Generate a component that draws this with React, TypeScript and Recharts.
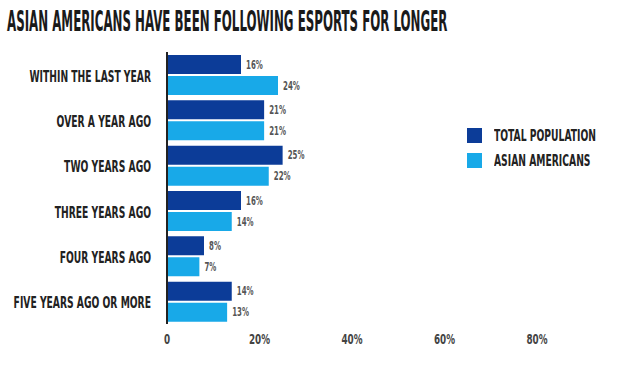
import React from 'react';
import { BarChart, Bar, XAxis, YAxis, Legend, LabelList } from 'recharts';

const categories = [
  'WITHIN THE LAST YEAR',
  'OVER A YEAR AGO',
  'TWO YEARS AGO',
  'THREE YEARS AGO',
  'FOUR YEARS AGO',
  'FIVE YEARS AGO OR MORE',
];
const totalPopulation = [16, 21, 25, 16, 8, 14];
const asianAmericans = [24, 21, 22, 14, 7, 13];
const xTicks = [0, 20, 40, 60, 80];

const FONT = "'DejaVu Sans Condensed', 'Liberation Sans Narrow', sans-serif";
const DARK = '#0c3c98';
const LIGHT = '#18a9e8';

const series = [
  { key: 'total', name: 'TOTAL POPULATION', color: DARK },
  { key: 'asian', name: 'ASIAN AMERICANS', color: LIGHT },
];

const data = categories.map((name, i) => ({
  name,
  total: totalPopulation[i],
  asian: asianAmericans[i],
}));

const CategoryTick = (props: any) => {
  const { x, y, payload } = props;
  return (
    <g transform={`translate(${x - 2},${y})`}>
      <text
        textAnchor="end"
        dy={7}
        transform="scale(0.62,1)"
        fontFamily={FONT}
        fontWeight="bold"
        fontSize={16.5}
        fill="#222"
      >
        {payload.value}
      </text>
    </g>
  );
};

const ValueTick = (props: any) => {
  const { x, y, payload } = props;
  return (
    <g transform={`translate(${x},${y})`}>
      <text
        textAnchor="middle"
        dy={12}
        transform="scale(0.7,1)"
        fontFamily={FONT}
        fontWeight="bold"
        fontSize={14}
        fill="#444"
      >
        {payload.value === 0 ? '0' : `${payload.value}%`}
      </text>
    </g>
  );
};

const ValueLabel = (props: any) => {
  const { x, y, width, height, value } = props;
  return (
    <g transform={`translate(${x + width + 5},${y + height / 2})`}>
      <text
        textAnchor="start"
        dy={4}
        transform="scale(0.65,1)"
        fontFamily={FONT}
        fontWeight="bold"
        fontSize={12}
        fill="#555"
      >
        {`${value}%`}
      </text>
    </g>
  );
};

const renderLegend = () => (
  <div>
    {series.map((s) => (
      <div key={s.key} style={{ position: 'relative', height: 15, marginBottom: 10 }}>
        <div style={{ position: 'absolute', left: 0, top: 0, width: 15, height: 15, background: s.color }} />
        <div
          style={{
            position: 'absolute',
            left: 27,
            top: -2,
            fontFamily: FONT,
            fontWeight: 'bold',
            fontSize: 16.5,
            lineHeight: '19px',
            color: '#222',
            transform: 'scale(0.62,1)',
            transformOrigin: 'left center',
            whiteSpace: 'nowrap',
          }}
        >
          {s.name}
        </div>
      </div>
    ))}
  </div>
);

export default function App() {
  return (
    <div style={{ position: 'absolute', left: 0, top: 0, width: 625, height: 378, background: '#fff' }}>
      <svg width={625} height={40} style={{ position: 'absolute', left: 0, top: 0 }}>
        <g transform="translate(7,31)">
          <text
            transform="scale(0.548,1.17)"
            fontFamily={FONT}
            fontWeight="bold"
            fontSize={24}
            fill="#1a1a1a"
          >
            ASIAN AMERICANS HAVE BEEN FOLLOWING ESPORTS FOR LONGER
          </text>
        </g>
      </svg>
      <BarChart
        layout="vertical"
        width={625}
        height={378}
        data={data}
        margin={{ top: 52, right: 88, bottom: 24, left: 0 }}
        barSize={19}
        barGap={2}
      >
        <XAxis
          type="number"
          domain={[0, 80]}
          ticks={xTicks}
          axisLine={false}
          tickLine={false}
          height={30}
          tick={<ValueTick />}
        />
        <YAxis
          type="category"
          dataKey="name"
          width={167}
          axisLine={{ stroke: '#222', strokeWidth: 2 }}
          tickLine={false}
          tickMargin={8}
          tick={<CategoryTick />}
        />
        <Legend
          layout="vertical"
          align="center"
          verticalAlign="middle"
          wrapperStyle={{ left: 467, top: 128, width: 160 }}
          content={renderLegend}
        />
        {series.map((s) => (
          <Bar key={s.key} dataKey={s.key} name={s.name} fill={s.color} isAnimationActive={false}>
            <LabelList dataKey={s.key} content={<ValueLabel />} />
          </Bar>
        ))}
      </BarChart>
    </div>
  );
}
